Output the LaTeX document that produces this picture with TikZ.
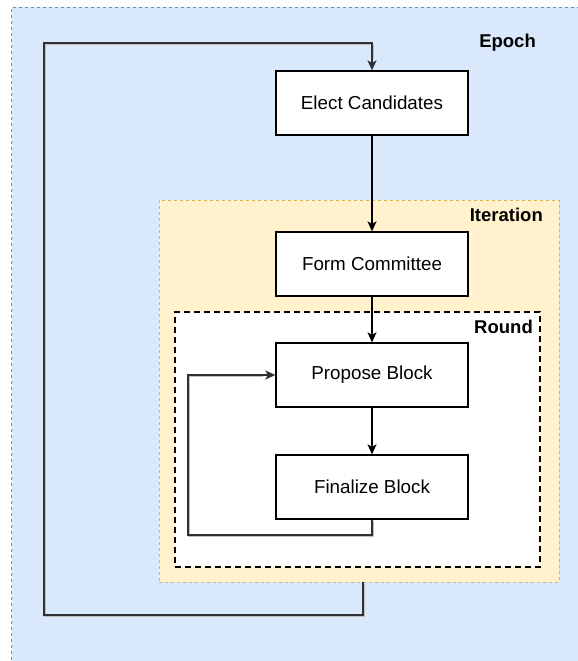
\documentclass[tikz,border=0pt]{standalone}
\usepackage{fontspec}
\setmainfont{Liberation Sans}
\usetikzlibrary{arrows.meta}
\definecolor{epochfill}{HTML}{DAE8FC}
\definecolor{epochline}{HTML}{6C8EBF}
\definecolor{iterfill}{HTML}{FFF2CC}
\definecolor{iterline}{HTML}{D6B656}
\definecolor{loopgray}{HTML}{2E3033}
\begin{document}
\begin{tikzpicture}[x=1pt,y=-1pt,
  container/.style={anchor=north west, inner sep=0pt, outer sep=0pt},
  box/.style={draw=black, line width=1.3pt, fill=white, minimum width=192pt, minimum height=64pt, inner sep=0pt, font=\fontsize{18.8}{22}\selectfont},
  lbl/.style={font=\bfseries\fontsize{18.5}{22}\selectfont, inner sep=0pt, anchor=base east},
  flow/.style={line width=1.3pt, draw=black, -{Stealth[length=10pt,width=9pt,inset=2.5pt]}},
  loopline/.style={line width=1.7pt, draw=loopgray, -{Stealth[length=10pt,width=9pt,inset=2.5pt]}},
  loopshadow/.style={line width=1.8pt, draw=black!25}]
\useasboundingbox (0,0) rectangle (578,661);
\begin{scope}
\clip (0,0) rectangle (578,661);
\node[container, draw=epochline, fill=epochfill, line width=0.9pt, dash pattern=on 3pt off 3pt, minimum width=620pt, minimum height=720pt] (epoch) at (11.5,7) {};
\end{scope}
\node[lbl] (epochlbl) at (536,47.7) {Epoch};
\node[container, draw=iterline, fill=iterfill, line width=0.9pt, dash pattern=on 3pt off 3pt, minimum width=400pt, minimum height=382pt] (iter) at (159,200) {};
\node[lbl] (iterlbl) at (543,221.7) {Iteration};
\node[container, draw=black, fill=white, line width=1.6pt, dash pattern=on 6pt off 4pt, minimum width=365pt, minimum height=255pt] (round) at (175,312) {};
\node[lbl] (roundlbl) at (533,333.7) {Round};

\node[box] (elect) at (372,103) {Elect Candidates};
\node[box] (form) at (372,264) {Form Committee};
\node[box] (propose) at (372,375) {Propose Block};
\node[box] (finalize) at (372,487) {Finalize Block};

\draw[flow] (elect) -- (form);
\draw[flow] (form) -- (propose);
\draw[flow] (propose) -- (finalize);

\coordinate (l1) at (188,535);
\draw[loopshadow] ([shift={(1,1.5)}]finalize.south) |- ([shift={(1,1.5)}]l1) |- ([shift={(-12,1.5)}]propose.west);
\draw[loopline] (finalize.south) |- (l1) |- (propose.west);

\coordinate (e0) at (363,582);
\coordinate (e1) at (44,615);
\coordinate (e2) at (44,43);
\draw[loopshadow] ([shift={(1,1.5)}]e0) |- ([shift={(1,1.5)}]e1) -- ([shift={(1,1.5)}]e2) -| ([shift={(1,-12)}]elect.north);
\draw[loopline] (e0) |- (e1) -- (e2) -| (elect.north);
\end{tikzpicture}
\end{document}
